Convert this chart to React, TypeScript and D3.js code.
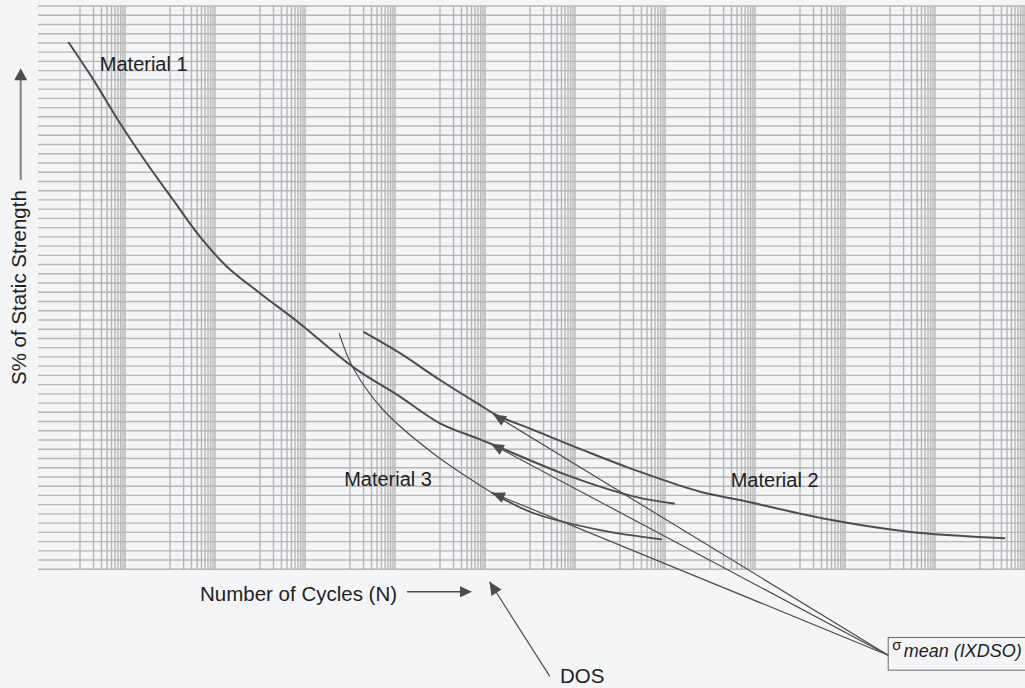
import React, { useRef, useEffect } from "react";
import * as d3 from "d3";

const W = 1025;
const H = 688;

// curves: [log10 N, S %]
const material1 = [
  [-0.26, 96.1], [0.3, 92.0], [0.89, 87.3], [1.48, 83.0], [2.07, 79.0],
  [2.67, 75.0], [3.26, 71.8], [4.0, 68.9], [4.89, 65.6], [6.07, 60.9],
  [7.11, 57.7], [8.0, 54.8], [8.82, 53.2], [9.13, 52.6], [10.82, 49.2],
  [12.3, 46.9], [13.22, 46.1],
];
const material2 = [
  [6.3, 64.7], [7.11, 62.4], [8.0, 59.5], [8.82, 57.0], [9.26, 55.7],
  [10.07, 54.1], [11.18, 51.9], [12.3, 49.8], [13.78, 47.4], [14.67, 46.5],
  [16.52, 44.5], [18.37, 43.1], [20.56, 42.35],
];
const material3 = [
  [5.76, 64.55], [6.07, 60.8], [6.74, 56.25], [7.85, 51.55], [9.15, 47.3],
];
const material3Tail = [
  [9.15, 47.3], [10.07, 45.1], [11.56, 43.25], [12.93, 42.25],
];

// arrow tips on the curves, and where their leaders meet the label box
const sigmaTips = [[9.18, 55.8], [9.13, 52.6], [9.15, 47.3]];
const sigmaBox = [17.96, 29.7];
const dosArrow = [[10.44, 27.4], [9.1, 37.65]];

const labels = [
  { text: "Material 1", at: [0.44, 93.0] },
  { text: "Material 3", at: [5.87, 48.0] },
  { text: "Material 2", at: [14.46, 47.9] },
];

// grid: decades 0, 2, 4 ... 20 drawn, 1..10 in each; S every 1 %
const gridDecades = d3.range(0, 21, 2);
const gridSteps = d3.range(1, 11);
const sTicks = d3.range(39, 101, 1);

const font = "'Liberation Sans', Arial, sans-serif";

function head(tip, from, len, w) {
  const dx = tip[0] - from[0];
  const dy = tip[1] - from[1];
  const d = Math.hypot(dx, dy);
  const ux = dx / d, uy = dy / d;
  const bx = tip[0] - ux * len, by = tip[1] - uy * len;
  return `M${tip[0]},${tip[1]}L${bx - uy * w},${by + ux * w}L${bx + uy * w},${by - ux * w}Z`;
}

const App = () => {
  const svgRef = useRef();

  useEffect(() => {
    const svg = d3.select(svgRef.current);
    svg.selectAll("*").remove();

    const x = d3.scaleLog().domain([Math.pow(10, -42 / 45), 1e21]).range([38, 1025]);
    const y = d3.scaleLinear().domain([39, 100]).range([569.3, 6]);
    const px = (p) => [x(Math.pow(10, p[0])), y(p[1])];

    svg.append("rect").attr("width", W).attr("height", H).attr("fill", "#f4f5f7");

    const grid = svg.append("g").attr("stroke", "#b6b6b8").attr("stroke-width", 1.4);
    grid
      .selectAll("line.h")
      .data(sTicks)
      .enter()
      .append("line")
      .attr("x1", 38)
      .attr("x2", W)
      .attr("y1", (d) => y(d))
      .attr("y2", (d) => y(d));

    const vx = [];
    gridDecades.forEach((e) => gridSteps.forEach((k) => vx.push(Math.pow(10, e) * k)));
    grid
      .selectAll("line.v")
      .data(vx)
      .enter()
      .append("line")
      .attr("x1", (d) => x(d))
      .attr("x2", (d) => x(d))
      .attr("y1", y(100))
      .attr("y2", y(39));

    const line = d3
      .line()
      .x((d) => x(Math.pow(10, d[0])))
      .y((d) => y(d[1]))
      .curve(d3.curveCatmullRom.alpha(0.5));

    const curves = [
      { data: material1, w: 2 },
      { data: material2, w: 2 },
      { data: material3, w: 1.2 },
      { data: material3Tail, w: 1.8 },
    ];
    svg
      .selectAll("path.curve")
      .data(curves)
      .enter()
      .append("path")
      .attr("d", (d) => line(d.data))
      .attr("fill", "none")
      .attr("stroke", "#4d4d4f")
      .attr("stroke-width", (d) => d.w);

    // leaders to the sigma box
    const box = px(sigmaBox);
    sigmaTips.forEach((t) => {
      const p = px(t);
      svg
        .append("line")
        .attr("x1", p[0]).attr("y1", p[1])
        .attr("x2", box[0]).attr("y2", box[1])
        .attr("stroke", "#4d4d4f")
        .attr("stroke-width", 1.2);
      svg.append("path").attr("d", head(p, box, 13, 5.5)).attr("fill", "#4d4d4f");
    });

    svg
      .append("rect")
      .attr("x", box[0])
      .attr("y", box[1] - 17.7)
      .attr("width", 200)
      .attr("height", 32.7)
      .attr("fill", "none")
      .attr("stroke", "#6a6a6c")
      .attr("stroke-width", 1);
    svg
      .append("text")
      .attr("x", box[0] + 4)
      .attr("y", box[1] - 5.5)
      .attr("font-family", font)
      .attr("font-size", 15)
      .attr("fill", "#222")
      .text("σ");
    svg
      .append("text")
      .attr("x", box[0] + 15.5)
      .attr("y", box[1] + 1.7)
      .attr("font-family", font)
      .attr("font-size", 18)
      .attr("font-style", "italic")
      .attr("fill", "#222")
      .text("mean (IXDSO)");

    // DOS pointer
    const dFrom = px(dosArrow[0]);
    const dTip = px(dosArrow[1]);
    svg
      .append("line")
      .attr("x1", dFrom[0]).attr("y1", dFrom[1])
      .attr("x2", dTip[0]).attr("y2", dTip[1])
      .attr("stroke", "#4d4d4f")
      .attr("stroke-width", 1.2);
    svg.append("path").attr("d", head(dTip, dFrom, 13, 6)).attr("fill", "#4d4d4f");
    svg
      .append("text")
      .attr("x", 560)
      .attr("y", 683)
      .attr("font-family", font)
      .attr("font-size", 20.5)
      .attr("fill", "#222")
      .text("DOS");

    svg
      .selectAll("text.lbl")
      .data(labels)
      .enter()
      .append("text")
      .attr("x", (d) => px(d.at)[0])
      .attr("y", (d) => px(d.at)[1])
      .attr("font-family", font)
      .attr("font-size", 20)
      .attr("fill", "#222")
      .text((d) => d.text);

    // axis titles with their arrows
    svg
      .append("text")
      .attr("x", 200)
      .attr("y", 601)
      .attr("font-family", font)
      .attr("font-size", 20.5)
      .attr("fill", "#222")
      .text("Number of Cycles (N)");
    svg
      .append("line")
      .attr("x1", 407).attr("y1", 591.7)
      .attr("x2", 462).attr("y2", 591.7)
      .attr("stroke", "#4d4d4f")
      .attr("stroke-width", 1.5);
    svg.append("path").attr("d", head([472, 591.7], [407, 591.7], 12, 5.5)).attr("fill", "#4d4d4f");

    svg
      .append("text")
      .attr("transform", "translate(25.5,385) rotate(-90)")
      .attr("font-family", font)
      .attr("font-size", 20.5)
      .attr("fill", "#222")
      .text("S% of Static Strength");
    svg
      .append("line")
      .attr("x1", 20.7).attr("y1", 180)
      .attr("x2", 20.7).attr("y2", 78)
      .attr("stroke", "#808082")
      .attr("stroke-width", 2);
    svg.append("path").attr("d", head([20.7, 68.3], [20.7, 180], 12, 6.5)).attr("fill", "#4d4d4f");
  }, []);

  return (
    <svg
      ref={svgRef}
      width={W}
      height={H}
      style={{ position: "absolute", left: 0, top: 0, display: "block" }}
    ></svg>
  );
};

export default App;
